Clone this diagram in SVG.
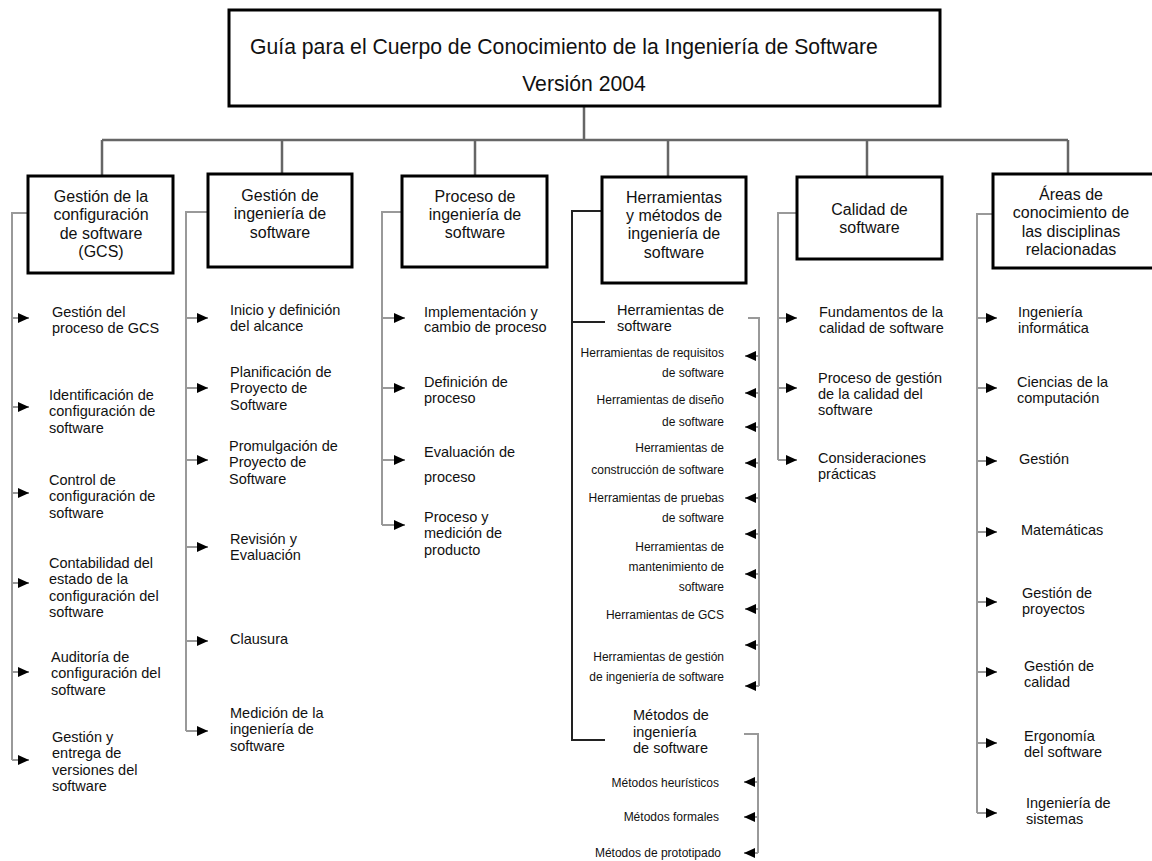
<svg xmlns="http://www.w3.org/2000/svg" width="1152" height="861" viewBox="0 0 1152 861">
<style>
text{font-family:"Liberation Sans",Arial,sans-serif;fill:#111}
.box{fill:#fff;stroke:#000;stroke-width:3}
.t21{font-size:21.2px}
.t16{font-size:16px;text-anchor:middle}
.t14{font-size:14.5px}
.t12{font-size:12px;text-anchor:end}
.tree{fill:none;stroke:#666;stroke-width:2.5}
.br{fill:none;stroke:#999;stroke-width:2}
.blk{fill:none;stroke:#222;stroke-width:2}
.ar{stroke:#999;stroke-width:2;marker-end:url(#ah)}
</style>
<defs>
<marker id="ah" markerWidth="11" markerHeight="10" refX="11" refY="5" orient="auto" markerUnits="userSpaceOnUse"><path d="M0,0 L11,5 L0,10 z" fill="#000"/></marker>
</defs>
<rect width="1152" height="861" fill="#fff"/>

<g id="connectors">
<path class="tree" d="M584,106 V140 M102,140 H1068 M102,140 V176 M282,140 V174 M475,140 V176 M668,140 V177 M867,140 V177 M1068,140 V174"/>
<path class="br" d="M28,213 H12 V760 M208,212 H186 V731 M402,212 H382 V525 M797,213 H778 V460 M993,214 H977 V813"/>
<path class="blk" d="M602,211 H572 V740 H605 M572,322 H605"/>
<path class="br" d="M748,318 H759 V686 M744,734 H758 V853"/>
<g id="arrows-c1"><line class="ar" x1="12" y1="318" x2="29" y2="318"/><line class="ar" x1="12" y1="407" x2="29" y2="407"/><line class="ar" x1="12" y1="493" x2="29" y2="493"/><line class="ar" x1="12" y1="583" x2="29" y2="583"/><line class="ar" x1="12" y1="672" x2="29" y2="672"/><line class="ar" x1="12" y1="760" x2="29" y2="760"/></g>
<g id="arrows-c2"><line class="ar" x1="186" y1="318" x2="208" y2="318"/><line class="ar" x1="186" y1="388" x2="208" y2="388"/><line class="ar" x1="186" y1="460" x2="208" y2="460"/><line class="ar" x1="186" y1="547" x2="208" y2="547"/><line class="ar" x1="186" y1="641" x2="208" y2="641"/><line class="ar" x1="186" y1="731" x2="208" y2="731"/></g>
<g id="arrows-c3"><line class="ar" x1="382" y1="318" x2="405" y2="318"/><line class="ar" x1="382" y1="388" x2="405" y2="388"/><line class="ar" x1="382" y1="460" x2="405" y2="460"/><line class="ar" x1="382" y1="525" x2="405" y2="525"/></g>
<g id="arrows-c4"><line class="ar" x1="759" y1="356" x2="745" y2="356"/><line class="ar" x1="759" y1="393" x2="745" y2="393"/><line class="ar" x1="759" y1="427" x2="745" y2="427"/><line class="ar" x1="759" y1="463" x2="745" y2="463"/><line class="ar" x1="759" y1="498" x2="745" y2="498"/><line class="ar" x1="759" y1="534" x2="745" y2="534"/><line class="ar" x1="759" y1="574" x2="745" y2="574"/><line class="ar" x1="759" y1="609" x2="745" y2="609"/><line class="ar" x1="759" y1="645" x2="745" y2="645"/><line class="ar" x1="759" y1="686" x2="745" y2="686"/><line class="ar" x1="758" y1="782" x2="744" y2="782"/><line class="ar" x1="758" y1="817" x2="744" y2="817"/><line class="ar" x1="758" y1="853" x2="744" y2="853"/></g>
<g id="arrows-c5"><line class="ar" x1="778" y1="318" x2="797" y2="318"/><line class="ar" x1="778" y1="388" x2="797" y2="388"/><line class="ar" x1="778" y1="460" x2="797" y2="460"/></g>
<g id="arrows-c6"><line class="ar" x1="977" y1="318" x2="997" y2="318"/><line class="ar" x1="977" y1="388" x2="997" y2="388"/><line class="ar" x1="977" y1="461" x2="997" y2="461"/><line class="ar" x1="977" y1="532" x2="997" y2="532"/><line class="ar" x1="977" y1="602" x2="997" y2="602"/><line class="ar" x1="977" y1="672" x2="997" y2="672"/><line class="ar" x1="977" y1="743" x2="997" y2="743"/><line class="ar" x1="977" y1="813" x2="997" y2="813"/></g>
</g>

<g id="root"><rect class="box" x="229" y="10" width="711" height="96"/>
<text class="t21" x="250" y="54">Guía para el Cuerpo de Conocimiento de la Ingeniería de Software</text>
<text class="t21" x="584" y="91" text-anchor="middle">Versión 2004</text></g>

<g id="ka-gcs"><rect class="box" x="28" y="176" width="145" height="97"/>
<text class="t16" x="101" y="202">Gestión de la</text><text class="t16" x="101" y="220">configuración</text><text class="t16" x="101" y="238.5">de software</text><text class="t16" x="101" y="257">(GCS)</text></g>
<g id="ka-gis"><rect class="box" x="208" y="174" width="144" height="93"/>
<text class="t16" x="280" y="201">Gestión de</text><text class="t16" x="280" y="219">ingeniería de</text><text class="t16" x="280" y="238">software</text></g>
<g id="ka-pis"><rect class="box" x="402" y="176" width="145" height="91"/>
<text class="t16" x="475" y="202">Proceso de</text><text class="t16" x="475" y="220">ingeniería de</text><text class="t16" x="475" y="238">software</text></g>
<g id="ka-hm"><rect class="box" x="602" y="177" width="144" height="106"/>
<text class="t16" x="674" y="203">Herramientas</text><text class="t16" x="674" y="221">y métodos de</text><text class="t16" x="674" y="239">ingeniería de</text><text class="t16" x="674" y="258">software</text></g>
<g id="ka-cal"><rect class="box" x="797" y="177" width="145" height="82"/>
<text class="t16" x="869.5" y="215">Calidad de</text><text class="t16" x="869.5" y="233">software</text></g>
<g id="ka-rel"><rect class="box" x="993" y="174" width="172" height="94"/>
<text class="t16" x="1071" y="200">Áreas de</text><text class="t16" x="1071" y="218">conocimiento de</text><text class="t16" x="1071" y="237">las disciplinas</text><text class="t16" x="1071" y="255">relacionadas</text></g>

<g id="c1-1"><text class="t14" x="52" y="316.5">Gestión del</text><text class="t14" x="52" y="333">proceso de GCS</text></g>
<g id="c1-2"><text class="t14" x="49" y="399.5">Identificación de</text><text class="t14" x="49" y="416">configuración de</text><text class="t14" x="49" y="432.5">software</text></g>
<g id="c1-3"><text class="t14" x="49" y="484.5">Control de</text><text class="t14" x="49" y="501">configuración de</text><text class="t14" x="49" y="517.5">software</text></g>
<g id="c1-4"><text class="t14" x="49" y="567.5">Contabilidad del</text><text class="t14" x="49" y="584">estado de la</text><text class="t14" x="49" y="600.5">configuración del</text><text class="t14" x="49" y="617">software</text></g>
<g id="c1-5"><text class="t14" x="51" y="661.5">Auditoría de</text><text class="t14" x="51" y="678">configuración del</text><text class="t14" x="51" y="694.5">software</text></g>
<g id="c1-6"><text class="t14" x="52" y="741.5">Gestión y</text><text class="t14" x="52" y="758">entrega de</text><text class="t14" x="52" y="774.5">versiones del</text><text class="t14" x="52" y="791">software</text></g>

<g id="c2-1"><text class="t14" x="230" y="314.5">Inicio y definición</text><text class="t14" x="230" y="331">del alcance</text></g>
<g id="c2-2"><text class="t14" x="230" y="376.5">Planificación de</text><text class="t14" x="230" y="393">Proyecto de</text><text class="t14" x="230" y="409.5">Software</text></g>
<g id="c2-3"><text class="t14" x="229" y="450.5">Promulgación de</text><text class="t14" x="229" y="467">Proyecto de</text><text class="t14" x="229" y="483.5">Software</text></g>
<g id="c2-4"><text class="t14" x="230" y="543.5">Revisión y</text><text class="t14" x="230" y="560">Evaluación</text></g>
<g id="c2-5"><text class="t14" x="230" y="643.5">Clausura</text></g>
<g id="c2-6"><text class="t14" x="230" y="717.5">Medición de la</text><text class="t14" x="230" y="734">ingeniería de</text><text class="t14" x="230" y="750.5">software</text></g>

<g id="c3-1"><text class="t14" x="424" y="316.5">Implementación y</text><text class="t14" x="424" y="332">cambio de proceso</text></g>
<g id="c3-2"><text class="t14" x="424" y="386.5">Definición de</text><text class="t14" x="424" y="403">proceso</text></g>
<g id="c3-3"><text class="t14" x="424" y="456.5">Evaluación de</text><text class="t14" x="424" y="481.5">proceso</text></g>
<g id="c3-4"><text class="t14" x="424" y="521.5">Proceso y</text><text class="t14" x="424" y="538">medición de</text><text class="t14" x="424" y="554.5">producto</text></g>

<g id="c4-tools"><text class="t14" x="617" y="315">Herramientas de</text><text class="t14" x="617" y="331">software</text></g>
<g id="c4-t1"><text class="t12" x="724" y="357">Herramientas de requisitos</text><text class="t12" x="724" y="377">de software</text></g>
<g id="c4-t2"><text class="t12" x="724" y="404">Herramientas de diseño</text><text class="t12" x="724" y="426">de software</text></g>
<g id="c4-t3"><text class="t12" x="724" y="452">Herramientas de</text><text class="t12" x="724" y="474">construcción de software</text></g>
<g id="c4-t4"><text class="t12" x="724" y="502">Herramientas de pruebas</text><text class="t12" x="724" y="522">de software</text></g>
<g id="c4-t5"><text class="t12" x="724" y="551">Herramientas de</text><text class="t12" x="724" y="571">mantenimiento de</text><text class="t12" x="724" y="591">software</text></g>
<g id="c4-t6"><text class="t12" x="724" y="619">Herramientas de GCS</text></g>
<g id="c4-t7"><text class="t12" x="724" y="661">Herramientas de gestión</text><text class="t12" x="724" y="681">de ingeniería de software</text></g>
<g id="c4-methods"><text class="t14" x="633" y="720">Métodos de</text><text class="t14" x="633" y="737">ingeniería</text><text class="t14" x="633" y="753">de software</text></g>
<g id="c4-m1"><text class="t12" x="719" y="787">Métodos heurísticos</text></g>
<g id="c4-m2"><text class="t12" x="719" y="821">Métodos formales</text></g>
<g id="c4-m3"><text class="t12" x="721" y="857">Métodos de prototipado</text></g>

<g id="c5-1"><text class="t14" x="819" y="316.5">Fundamentos de la</text><text class="t14" x="819" y="332.5">calidad de software</text></g>
<g id="c5-2"><text class="t14" x="818" y="382.5">Proceso de gestión</text><text class="t14" x="818" y="398.5">de la calidad del</text><text class="t14" x="818" y="414.5">software</text></g>
<g id="c5-3"><text class="t14" x="818" y="462.5">Consideraciones</text><text class="t14" x="818" y="479">prácticas</text></g>

<g id="c6-1"><text class="t14" x="1018" y="316.5">Ingeniería</text><text class="t14" x="1018" y="332.5">informática</text></g>
<g id="c6-2"><text class="t14" x="1017" y="386.5">Ciencias de la</text><text class="t14" x="1017" y="403">computación</text></g>
<g id="c6-3"><text class="t14" x="1019" y="463.5">Gestión</text></g>
<g id="c6-4"><text class="t14" x="1021" y="534.5">Matemáticas</text></g>
<g id="c6-5"><text class="t14" x="1022" y="597.5">Gestión de</text><text class="t14" x="1022" y="613.5">proyectos</text></g>
<g id="c6-6"><text class="t14" x="1024" y="670.5">Gestión de</text><text class="t14" x="1024" y="687">calidad</text></g>
<g id="c6-7"><text class="t14" x="1024" y="740.5">Ergonomía</text><text class="t14" x="1024" y="757">del software</text></g>
<g id="c6-8"><text class="t14" x="1026" y="807.5">Ingeniería de</text><text class="t14" x="1026" y="824">sistemas</text></g>
</svg>
